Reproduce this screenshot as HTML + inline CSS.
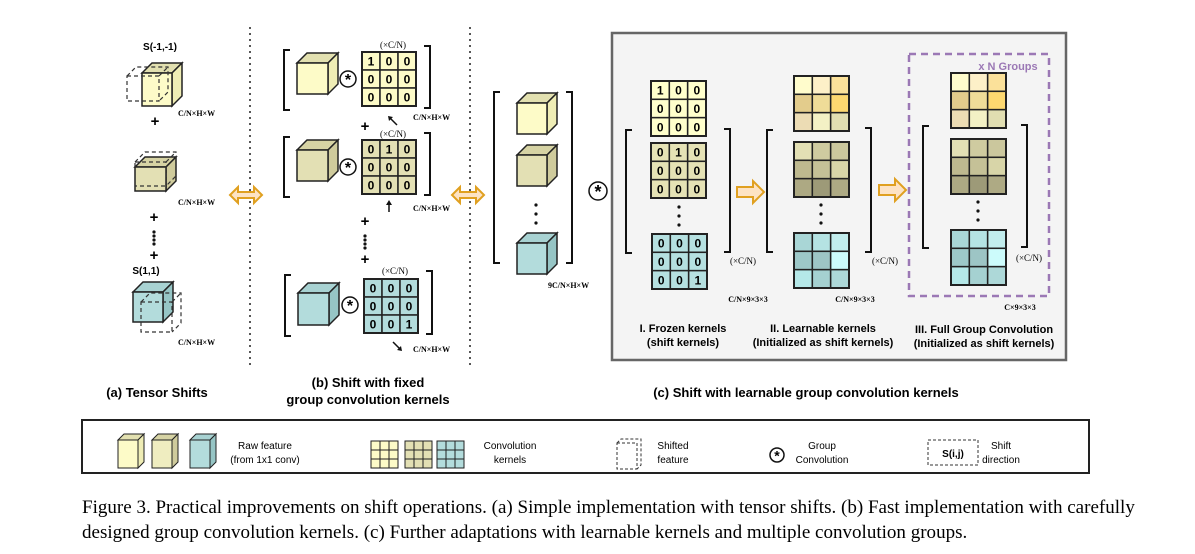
<!DOCTYPE html>
<html><head><meta charset="utf-8"><style>
body{margin:0;background:#fff;width:1195px;height:554px;overflow:hidden}
svg{display:block}
.t{font-family:"Liberation Sans",sans-serif}
.s{font-family:"Liberation Serif",serif}
</style></head><body>
<svg id="g" width="1195" height="554" viewBox="0 0 1195 554" xmlns="http://www.w3.org/2000/svg"></svg>
<script>
const g=document.getElementById('g');let h='';
const Y=['#fdfbc8','#efedb5','#e2e0b0'],O=['#e3e0b4','#cfcb9c','#d6d3a4'],T=['#b3dcdc','#96c5c5','#a8d2d2'];
function cube(x,y,w,hh,d,c,sw){sw=sw||1.5;
h+=`<polygon points="${x},${y} ${x+d},${y-d} ${x+w+d},${y-d} ${x+w},${y}" fill="${c[2]}" stroke="#222" stroke-width="${sw}"/>`;
h+=`<polygon points="${x+w},${y} ${x+w+d},${y-d} ${x+w+d},${y+hh-d} ${x+w},${y+hh}" fill="${c[1]}" stroke="#222" stroke-width="${sw}"/>`;
h+=`<rect x="${x}" y="${y}" width="${w}" height="${hh}" fill="${c[0]}" stroke="#222" stroke-width="${sw}"/>`;}
function dcube(x,y,w,hh,d){h+=`<g fill="none" stroke="#333" stroke-dasharray="4,3" stroke-width="1.2"><rect x="${x}" y="${y}" width="${w}" height="${hh}"/><polyline points="${x},${y} ${x+d},${y-d} ${x+w+d},${y-d} ${x+w+d},${y+hh-d} ${x+w},${y+hh}"/><line x1="${x+w}" y1="${y}" x2="${x+w+d}" y2="${y-d}"/></g>`;}
function mat(x,y,s,cols,nums){let c=s/3;
for(let i=0;i<9;i++){let r=Math.floor(i/3),k=i%3;h+=`<rect x="${x+k*c}" y="${y+r*c}" width="${c}" height="${c}" fill="${Array.isArray(cols)?cols[i]:cols}" stroke="#222" stroke-width="1.5"/>`;
if(nums)h+=`<text x="${x+k*c+c/2}" y="${y+r*c+c/2+4.5}" class="t" font-size="12" font-weight="bold" text-anchor="middle">${nums[i]}</text>`;}
h+=`<rect x="${x}" y="${y}" width="${s}" height="${s}" fill="none" stroke="#222" stroke-width="2"/>`;}
function br(x,y1,y2,left){let dx=left?6:-6;h+=`<polyline points="${x+dx},${y1} ${x},${y1} ${x},${y2} ${x+dx},${y2}" fill="none" stroke="#111" stroke-width="2"/>`;}
function txt(x,y,s,fs,cls,anchor,extra){h+=`<text x="${x}" y="${y}" font-size="${fs}" class="${cls}" text-anchor="${anchor||'middle'}" ${extra||''}>${s}</text>`;}
function conv(x,y,r){r=r||8;h+=`<circle cx="${x}" cy="${y}" r="${r}" fill="#fff" stroke="#111" stroke-width="1.5"/>`;txt(x,y+r*0.75,'*',r*2,'t','middle','font-weight="bold"');}
function dots(x,y1,n,gap){for(let i=0;i<n;i++)h+=`<circle cx="${x}" cy="${y1+i*gap}" r="1.6" fill="#111"/>`;}
function dbl(x,y){h+=`<polygon points="${x},${y} ${x+8},${y-8} ${x+8},${y-3} ${x+24},${y-3} ${x+24},${y-8} ${x+32},${y} ${x+24},${y+8} ${x+24},${y+3} ${x+8},${y+3} ${x+8},${y+8}" fill="#fde3c4" stroke="#e0a020" stroke-width="2"/>`;}
function arr(x,y){h+=`<polygon points="${x},${y-5} ${x+16},${y-5} ${x+16},${y-11} ${x+27},${y} ${x+16},${y+11} ${x+16},${y+5} ${x},${y+5}" fill="#fde3c4" stroke="#e0a020" stroke-width="2"/>`;}
const CN='C/N×H×W';
// (a)
cube(142,73,30,33,10,Y);dcube(127,76,32,25,9);
txt(160,50,'S(-1,-1)',10,'t','middle','font-weight="bold"');
txt(178,116,CN,8,'s','start','font-weight="bold"');txt(155,126,'+',15,'t','middle','font-weight="bold"');
cube(135,167,31,24,10,O);dcube(135,162,31,24,10);
txt(178,205,CN,8,'s','start','font-weight="bold"');txt(154,222,'+',15,'t','middle','font-weight="bold"');
dots(154,232,4,4);txt(154,260,'+',15,'t','middle','font-weight="bold"');
txt(146,274,'S(1,1)',10,'t','middle','font-weight="bold"');
cube(133,292,30,30,10,T);dcube(141,302,31,30,9);
txt(178,345,CN,8,'s','start','font-weight="bold"');
for(let y=28;y<368;y+=6){h+=`<circle cx="250" cy="${y}" r="1" fill="#222"/><circle cx="470" cy="${y}" r="1" fill="#222"/>`;}
dbl(230,195);dbl(452,195);
// (b)
const n1=[1,0,0,0,0,0,0,0,0],n2=[0,1,0,0,0,0,0,0,0],n3=[0,0,0,0,0,0,0,0,1];
function bblk(y,c,nums,my){br(284,y,y+60,true);cube(297,y+13,31,31,10,c);conv(348,my+27);mat(362,my,54,c[0]==Y[0]?'#fdfbc8':c[0],nums);br(430,y-4,y+58,false);}
bblk(50,Y,n1,52);bblk(137,O,n2,140);
br(285,275,336,true);cube(298,293,31,32,10,T);conv(350,305);mat(364,279,54,'#b3dcdc',n3);br(432,271,334,false);
txt(393,48,'(×C/N)',9,'s');txt(393,137,'(×C/N)',9,'s');txt(395,274,'(×C/N)',9,'s');
txt(413,120,CN,8,'s','start','font-weight="bold"');txt(413,211,CN,8,'s','start','font-weight="bold"');txt(413,352,CN,8,'s','start','font-weight="bold"');
h+=`<g stroke="#111" stroke-width="1.5"><line x1="397" y1="125" x2="389" y2="117"/><line x1="389" y1="203" x2="389" y2="212"/><line x1="393" y1="342" x2="400" y2="349"/></g>`;
h+=`<polygon points="388,116 393,117 389,121" fill="#111"/><polygon points="389,200 386,205 392,205" fill="#111"/><polygon points="402,351 397,350 401,346" fill="#111"/>`;
txt(365,131,'+',15,'t','middle','font-weight="bold"');txt(365,226,'+',15,'t','middle','font-weight="bold"');dots(365,236,4,4);txt(365,264,'+',15,'t','middle','font-weight="bold"');
// middle
br(494,92,263,true);br(572,92,263,false);
cube(517,103,30,31,10,Y);cube(517,155,30,31,10,O);dots(536,205,3,9);cube(517,243,30,31,10,T);
conv(598,191,9);txt(548,288,'9C/N×H×W',8,'s','start','font-weight="bold"');
// gray box
h+=`<rect x="612" y="33" width="454" height="327" fill="#f4f4f4" stroke="#666" stroke-width="2.5"/>`;
mat(651,81,55,'#ffffcc',n1);mat(651,143,55,'#e5e2b5',n2);dots(679,207,3,9);mat(652,234,55,'#b5e0e0',n3);
br(626,130,253,true);br(730,129,252,false);txt(743,264,'(×C/N)',9,'s');txt(748,302,'C/N×9×3×3',8,'s','middle','font-weight="bold"');
arr(737,192);
const LY=['#fffccc','#fdf0c8','#fbe19a','#e3cc8c','#efdc98','#fdd870','#ecdcb4','#f3f1c5','#e1deb1'];
const LO=['#e3e0b4','#cfcba0','#cbc79d','#beb98f','#c5c197','#d8d5a8','#ada983','#9d9a78','#aeaa84'];
const LT=['#a9d6d6','#b5e3e3','#c2eded','#9dc8c8','#9dc5c5','#ccfbfb','#b5e8e8','#a5d1d1','#add8d8'];
mat(794,76,55,LY);mat(794,142,55,LO);dots(821,205,3,9);mat(794,233,55,LT);
br(767,130,252,true);br(871,128,252,false);txt(885,264,'(×C/N)',9,'s');txt(855,302,'C/N×9×3×3',8,'s','middle','font-weight="bold"');
arr(879,190);
h+=`<rect x="909" y="54" width="140" height="242" fill="none" stroke="#9b78b5" stroke-width="2.5" stroke-dasharray="7,5"/>`;
txt(1008,70,'x N Groups',11,'t','middle','fill="#9b78b5" font-weight="bold"');
mat(951,73,55,LY);mat(951,139,55,LO);dots(978,202,3,9);mat(951,230,55,LT);
br(923,126,248,true);br(1027,125,247,false);txt(1029,261,'(×C/N)',9,'s');txt(1020,310,'C×9×3×3',8,'s','middle','font-weight="bold"');
const B='font-weight="bold"';
txt(683,332,'I. Frozen kernels',11,'t','middle',B);txt(683,346,'(shift kernels)',11,'t','middle',B);
txt(823,332,'II. Learnable kernels',11,'t','middle',B);txt(823,346,'(Initialized as shift kernels)',11,'t','middle',B);
txt(984,333,'III. Full Group Convolution',11,'t','middle',B);txt(984,347,'(Initialized as shift kernels)',11,'t','middle',B);
txt(157,397,'(a) Tensor Shifts',13,'t','middle',B);
txt(368,387,'(b) Shift with fixed',13,'t','middle',B);txt(368,404,'group convolution kernels',13,'t','middle',B);
txt(806,397,'(c) Shift with learnable group convolution kernels',13,'t','middle',B);
// legend
h+=`<rect x="82" y="420" width="1007" height="53" fill="#fff" stroke="#222" stroke-width="2"/>`;
cube(118,440,20,28,6,Y,1);cube(152,440,20,28,6,['#efedc0',O[1],O[2]],1);cube(190,440,20,28,6,T,1);
txt(265,449,'Raw feature',10,'t');txt(265,463,'(from 1x1 conv)',10,'t');
function lg(x,c){let s=27/3;for(let i=0;i<9;i++){h+=`<rect x="${x+(i%3)*s}" y="${441+Math.floor(i/3)*s}" width="${s}" height="${s}" fill="${c}" stroke="#222" stroke-width="1"/>`;}}
lg(371,'#fdfbc8');lg(405,'#e3e0b4');lg(437,'#b3dcdc');
txt(510,449,'Convolution',10,'t');txt(510,463,'kernels',10,'t');
h+=`<g fill="none" stroke="#333" stroke-dasharray="3,2"><rect x="617" y="443" width="20" height="26"/><polyline points="617,443 621,439 641,439 641,465 637,469"/></g>`;
txt(673,449,'Shifted',10,'t');txt(673,463,'feature',10,'t');
conv(777,455,7);txt(822,449,'Group',10,'t');txt(822,463,'Convolution',10,'t');
h+=`<rect x="928" y="440" width="50" height="25" fill="none" stroke="#333" stroke-dasharray="3,2"/>`;txt(953,457,'S(i,j)',10,'t','middle',B);
txt(1001,449,'Shift',10,'t');txt(1001,463,'direction',10,'t');
// caption
txt(82,513,'Figure 3. Practical improvements on shift operations. (a) Simple implementation with tensor shifts. (b) Fast implementation with carefully',19.05,'s','start');
txt(82,538,'designed group convolution kernels. (c) Further adaptations with learnable kernels and multiple convolution groups.',19.05,'s','start');
g.innerHTML=h;
</script>
</body></html>
